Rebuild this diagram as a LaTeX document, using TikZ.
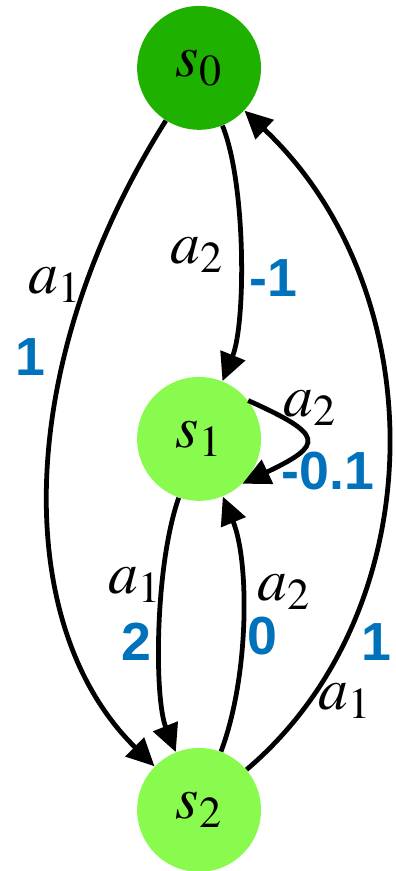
\documentclass[tikz,border=0pt]{standalone}
\usepackage{mathptmx}
\usepackage[no-math]{fontspec}
\newfontfamily\rewardfont{Liberation Sans}
\usetikzlibrary{arrows.meta}
\definecolor{darkgreen}{RGB}{30,177,0}
\definecolor{lightgreen}{RGB}{137,250,78}
\definecolor{rewardblue}{RGB}{0,114,188}

\begin{document}
\begin{tikzpicture}[
  statenode/.style={circle, fill=#1, minimum size=2.19cm, inner sep=0pt, font=\fontsize{30}{34}\selectfont},
  edge/.style={line width=2.4pt, -{Triangle[length=14pt, width=13pt]}},
  act/.style={inner sep=0pt, font=\fontsize{30}{34}\selectfont},
  reward/.style={inner sep=0pt, text=rewardblue, font=\fontsize{27}{31}\selectfont\rewardfont\bfseries}
]
\useasboundingbox (-3.52,-1.08) rectangle (3.48,14.32);

% States
\node[statenode=darkgreen] (s0) at (0,13.12) {$s_0$};
\node[statenode=lightgreen] (s1) at (0,6.56) {$s_1$};
\node[statenode=lightgreen] (s2) at (0,0) {$s_2$};

% Transitions
\draw[edge] (s0) .. controls (-3.31,7.87) and (-3.31,3.24) .. (s2);
\draw[edge] (s0) .. controls (0.83,11.07) and (0.83,8.61) .. (s1);
\draw[edge] (s1.38) .. controls (2.22,6.63) and (2.22,6.46) .. (s1.-46);
\draw[edge] (s1) .. controls (-0.79,4.28) and (-0.79,1.96) .. (s2);
\draw[edge] (s2) .. controls (0.89,2.37) and (0.89,4.40) .. (s1);
\draw[edge] (s2) .. controls (4.17,3.54) and (4.17,9.19) .. (s0);

% Actions and rewards
\node[act] (a01) at (-2.55,9.28) {$a_1$};
\node[reward] (r01) at (-2.99,8.01) {1};
\node[act] (a02) at (-0.04,9.81) {$a_2$};
\node[reward] (r02) at (1.31,9.40) {-1};
\node[act] (a11) at (1.96,7.11) {$a_2$};
\node[reward] (r11) at (2.28,5.99) {-0.1};
\node[act] (a12) at (-1.13,3.98) {$a_1$};
\node[reward] (r12) at (-1.10,2.97) {2};
\node[act] (a21) at (1.50,3.86) {$a_2$};
\node[reward] (r21) at (1.12,3.08) {0};
\node[reward] (r20) at (3.13,2.97) {1};
\node[act] (a20) at (2.58,1.93) {$a_1$};

\end{tikzpicture}
\end{document}
